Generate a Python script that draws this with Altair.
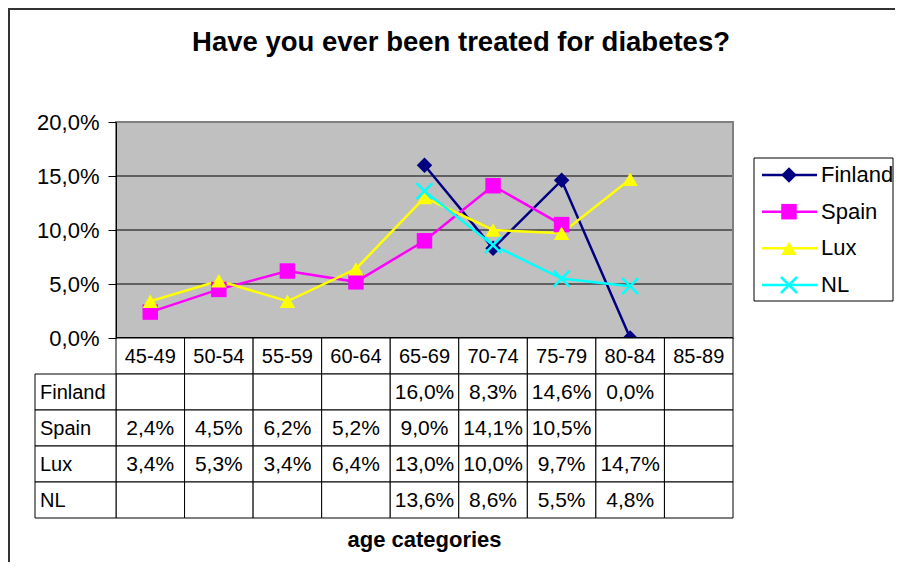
import altair as alt
import pandas as pd

categories = ["45-49", "50-54", "55-59", "60-64", "65-69", "70-74", "75-79", "80-84", "85-89"]
series_names = ["Finland", "Spain", "Lux", "NL"]
finland = [None, None, None, None, 0.160, 0.083, 0.146, 0.000, None]
spain = [0.024, 0.045, 0.062, 0.052, 0.090, 0.141, 0.105, None, None]
lux = [0.034, 0.053, 0.034, 0.064, 0.130, 0.100, 0.097, 0.147, None]
nl = [None, None, None, None, 0.136, 0.086, 0.055, 0.048, None]
y_ticks = [0.0, 0.05, 0.10, 0.15, 0.20]
grid_vals = [0.05, 0.10, 0.15]
colors = ["#000080", "#FF00FF", "#FFFF00", "#00FFFF"]
filled_shapes = ["diamond", "square", "triangle-up"]
x_shape = "M-1,-1L1,1M-1,1L1,-1"

FONT = "Liberation Sans"
W, PH, RH = 617, 216, 36
TH = RH * 5
H = PH + TH


def fmt(v):
    if v is None:
        return ""
    return f"{v * 100:.1f}%".replace(".", ",")


rows = []
for name, vals in zip(series_names, [finland, spain, lux, nl]):
    for c, v in zip(categories, vals):
        rows.append({"series": name, "cat": c, "value": v, "label": fmt(v)})
df = pd.DataFrame(rows)
df_line = df.dropna(subset=["value"]).copy()

table_rows = ["header"] + series_names
hdf = pd.DataFrame({"row": "header", "cat": categories, "label": categories})
vdf = df.rename(columns={"series": "row"})[["row", "cat", "label"]]
tdf = pd.concat([hdf, vdf], ignore_index=True)
ldf = pd.DataFrame({"row": series_names})

xs = alt.Scale(type="band", domain=categories, paddingInner=0, paddingOuter=0)
ys = alt.Scale(domain=[0, 0.2], range=[PH, 0], nice=False, zero=True)
cs = alt.Scale(domain=series_names, range=colors)
ss = alt.Scale(domain=series_names[:3], range=filled_shapes)

yaxis = alt.Axis(
    values=y_ticks,
    labelExpr="replace(format(datum.value, '.1%'), '.', ',')",
    title=None, grid=False, domainColor="black", domainWidth=1,
    tickColor="black", tickSize=8, tickWidth=1, labelFontSize=22, labelFont=FONT,
    labelColor="black", labelPadding=9, zindex=1,
)

band_df = pd.DataFrame({"lo": [0.0], "hi": [0.2]})

bg = alt.Chart(band_df).mark_rect(color="#C0C0C0").encode(
    x=alt.value(0), x2=alt.value("width"),
    y=alt.Y("lo:Q", scale=ys, axis=yaxis), y2="hi:Q",
)
grid = alt.Chart(pd.DataFrame({"g": grid_vals})).mark_rule(color="black", strokeWidth=1).encode(
    y=alt.Y("g:Q", scale=ys, axis=yaxis)
)
border = alt.Chart(band_df).mark_rect(fillOpacity=0, stroke="#808080", strokeWidth=2).encode(
    x=alt.value(0), x2=alt.value("width"),
    y=alt.Y("lo:Q", scale=ys, axis=yaxis), y2="hi:Q",
)
baseline = alt.Chart(pd.DataFrame({"z": [0.0]})).mark_rule(color="black", strokeWidth=2).encode(
    y=alt.Y("z:Q", scale=ys, axis=yaxis)
)

xenc = alt.X("cat:N", scale=xs, axis=None, bandPosition=0.5)
lines = alt.Chart(df_line).mark_line(strokeWidth=2.5).encode(
    x=xenc, y=alt.Y("value:Q", scale=ys, axis=yaxis),
    color=alt.Color("series:N", scale=cs, legend=None),
)
pts = alt.Chart(df_line[df_line.series != "NL"]).mark_point(filled=True, size=240, opacity=1).encode(
    x=xenc, y=alt.Y("value:Q", scale=ys, axis=yaxis),
    color=alt.Color("series:N", scale=cs, legend=None),
    shape=alt.Shape("series:N", scale=ss, legend=None),
)
nlpts = alt.Chart(df_line[df_line.series == "NL"]).mark_point(
    filled=False, shape=x_shape, size=256, strokeWidth=2.5, color="#00FFFF", opacity=1
).encode(x=xenc, y=alt.Y("value:Q", scale=ys, axis=yaxis))

plot = alt.layer(bg, grid, border, lines, pts, nlpts, baseline)

# data table
ty = alt.Scale(type="band", domain=table_rows, range=[PH, H], paddingInner=0, paddingOuter=0)
tyenc = alt.Y("row:N", scale=ty, axis=None, bandPosition=0.5)
cells = alt.Chart(tdf).mark_rect(fill="white", stroke="black", strokeWidth=1).encode(
    x=alt.X("cat:N", scale=xs, axis=None), y=alt.Y("row:N", scale=ty, axis=None)
)
head_text = alt.Chart(hdf).mark_text(fontSize=20, font=FONT, color="black", baseline="middle", dy=1).encode(
    x=xenc, y=tyenc, text="label:N"
)
val_text = alt.Chart(vdf).mark_text(fontSize=21, font=FONT, color="black", baseline="middle", dy=1).encode(
    x=xenc, y=tyenc, text="label:N"
)
label_cells = alt.Chart(ldf).mark_rect(fill="white", stroke="black", strokeWidth=1).encode(
    x=alt.value(-81), x2=alt.value(0), y=alt.Y("row:N", scale=ty, axis=None)
)
label_text = alt.Chart(ldf).mark_text(fontSize=20, font=FONT, color="black", baseline="middle", align="left", dy=1).encode(
    x=alt.value(-76), y=tyenc, text="row:N"
)
table = alt.layer(cells, head_text, val_text, label_cells, label_text)

# legend
lg = pd.DataFrame({"series": series_names})
ly = alt.Scale(type="point", domain=series_names, range=[53, 163], padding=0)
lyenc = alt.Y("series:N", scale=ly, axis=None)
box = alt.Chart(pd.DataFrame({"a": [0]})).mark_rect(fill="white", stroke="black", strokeWidth=1).encode(
    x=alt.value(638), x2=alt.value(777), y=alt.value(36), y2=alt.value(179)
)
lrule = alt.Chart(lg).mark_rule(strokeWidth=2.5).encode(
    x=alt.value(646), x2=alt.value(701), y=lyenc,
    color=alt.Color("series:N", scale=cs, legend=None),
)
lpts = alt.Chart(lg[lg.series != "NL"]).mark_point(filled=True, size=240, opacity=1).encode(
    x=alt.value(673), y=lyenc,
    color=alt.Color("series:N", scale=cs, legend=None),
    shape=alt.Shape("series:N", scale=ss, legend=None),
)
lnl = alt.Chart(lg[lg.series == "NL"]).mark_point(
    filled=False, shape=x_shape, size=256, strokeWidth=2.5, color="#00FFFF", opacity=1
).encode(x=alt.value(673), y=lyenc)
ltext = alt.Chart(lg).mark_text(fontSize=22, font=FONT, color="black", baseline="middle", align="left").encode(
    x=alt.value(705), y=lyenc, text="series:N"
)
legend = alt.layer(box, lrule, lpts, lnl, ltext)

# titles and frame
frame = alt.Chart(pd.DataFrame({"a": [0]})).mark_rect(fillOpacity=0, stroke="#333333", strokeWidth=2).encode(
    x=alt.value(-107), x2=alt.value(W + 200), y=alt.value(-113), y2=alt.value(H + 200)
)
title = alt.Chart(pd.DataFrame({"t": ["Have you ever been treated for diabetes?"]})).mark_text(
    fontSize=27.5, fontWeight="bold", font=FONT, color="black", align="center", baseline="alphabetic"
).encode(x=alt.value(345), y=alt.value(-71), text="t:N")
xtitle = alt.Chart(pd.DataFrame({"t": ["age categories"]})).mark_text(
    fontSize=22, fontWeight="bold", font=FONT, color="black", align="center", baseline="alphabetic"
).encode(x=alt.value(W / 2), y=alt.value(425), text="t:N")
deco = alt.layer(frame, title, xtitle)

chart = alt.layer(plot, table, legend, deco).resolve_scale(y="independent").properties(
    width=W, height=H,
    padding={"left": 108, "top": 114, "right": 162, "bottom": 44},
    autosize=alt.AutoSizeParams(type="none"),
    background="white",
).configure_view(stroke=None)

chart.save("out.html", embed_options={"renderer": "svg", "actions": False})
